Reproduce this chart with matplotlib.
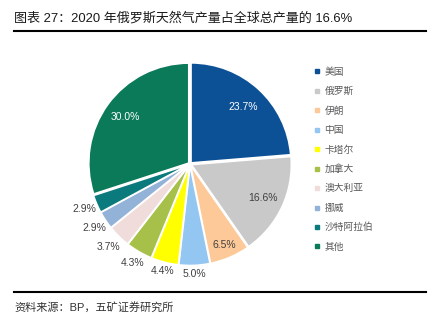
import numpy as np
import matplotlib
matplotlib.use("Agg")
import matplotlib.pyplot as plt
from matplotlib.lines import Line2D

plt.rcParams['font.family'] = ['Liberation Sans', 'Noto Sans CJK SC', 'DejaVu Sans']

# data
countries = ['美国', '俄罗斯', '伊朗', '中国', '卡塔尔', '加拿大', '澳大利亚', '挪威', '沙特阿拉伯', '其他']
shares = [23.7, 16.6, 6.5, 5.0, 4.4, 4.3, 3.7, 2.9, 2.9, 30.0]
colors = ['#0c5196', '#c9c9c9', '#fdc998', '#93c6f1', '#ffff00',
          '#a6c04a', '#f1dcdc', '#93b2d7', '#0b7a7c', '#0a7a59']
label_colors = ['white', '#404040', '#404040', '#404040', '#404040',
                '#404040', '#404040', '#404040', '#404040', 'white']
label_dist = [0.78, 0.81, 0.88, 1.1, 1.1, 1.14, 1.16, 1.15, 1.15, 0.80]

fig = plt.figure(figsize=(4.37, 3.25), dpi=100)

# title + rules
fig.text(14/437, 1 - 18/325, '图表 27：2020 年俄罗斯天然气产量占全球总产量的 16.6%',
         fontsize=9.4, color='#1a1a1a', va='center', ha='left')
fig.add_artist(Line2D([14/437, 426/437], [1 - 31/325, 1 - 31/325], color='black', lw=1.5))
fig.add_artist(Line2D([14/437, 426/437], [1 - 292/325, 1 - 292/325], color='black', lw=1.5))
fig.text(14/437, 1 - 307/325, '资料来源：BP，五矿证券研究所',
         fontsize=8, color='#333333', va='center', ha='left')

# pie
ax = fig.add_axes([65/437, 36/325, 250/437, 250/325])
wedges, _ = ax.pie(shares, colors=colors, startangle=90, counterclock=False,
                   explode=[0.015] * len(shares),
                   wedgeprops=dict(edgecolor='white', linewidth=1.2))
ax.set_xlim(-1.25, 1.25)
ax.set_ylim(-1.25, 1.25)
ax.set_aspect('equal')
ax.axis('off')

for w, v, d, c in zip(wedges, shares, label_dist, label_colors):
    ang = np.deg2rad((w.theta1 + w.theta2) / 2)
    ax.text(d * np.cos(ang), d * np.sin(ang), f'{v:.1f}%', fontsize=7.5,
            color=c, ha='center', va='center')

# legend
handles = [Line2D([], [], marker='s', ls='none', color=c, markersize=3) for c in colors]
fig.legend(handles, countries, loc='upper left', bbox_to_anchor=(310/437, 1 - 63/325),
           frameon=False, fontsize=7, labelcolor='#595959', handlelength=0.6,
           handletextpad=0.5, labelspacing=0.97, borderaxespad=0)

fig.savefig('out.png', dpi=100)
